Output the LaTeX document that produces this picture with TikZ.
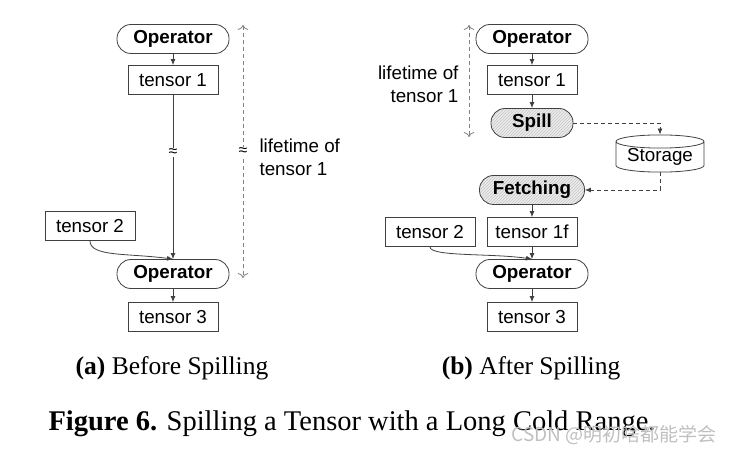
\documentclass[tikz,border=0pt]{standalone}
\usepackage{fontspec}
\newfontfamily\diagfont{Liberation Sans}
\newfontfamily\capfont{Liberation Serif}
\newfontfamily\cjkfont{Noto Sans CJK SC}
\usetikzlibrary{arrows.meta,patterns,shapes.geometric}

\begin{document}
\begin{tikzpicture}[x=1pt,y=-1pt,>={Latex[length=6pt,width=5pt]},
  font=\diagfont\fontsize{18.8}{23}\selectfont,
  box/.style={draw=black!75,line width=0.8pt,minimum height=29pt,inner sep=0pt},
  tensorbox/.style={box,minimum width=90pt},
  opbox/.style={box,rounded corners=14pt,minimum width=112pt,
    font=\diagfont\bfseries\fontsize{18.8}{23}\selectfont},
  hatched/.style={opbox,preaction={fill=gray!15},pattern=north east lines,
    pattern color=gray!45},
  flow/.style={->,draw=black!75,line width=0.8pt},
  store/.style={->,draw=black!75,line width=0.8pt,dash pattern=on 4pt off 3pt},
  life/.style={{To[length=5pt]}-{To[length=5pt]},draw=gray,line width=0.8pt,
    dash pattern=on 4pt off 3pt},
  approx/.style={fill=white,inner sep=0.5pt,font=\diagfont\fontsize{16}{16}\selectfont},
  caption/.style={anchor=base,font=\capfont\fontsize{25.5}{27}\selectfont}]
  \useasboundingbox (0,0) rectangle (736,454);
  % before spilling
  \node[opbox] (opA) at (173,39) {Operator};
  \node[tensorbox] (tAone) at (173,80) {tensor 1};
  \node[tensorbox] (tAtwo) at (90,226) {tensor 2};
  \node[opbox] (opAb) at (173,274) {Operator};
  \node[tensorbox] (tAthree) at (173,317) {tensor 3};
  \draw[flow] (opA) -- (tAone);
  \draw[flow] (tAone) -- node[approx,pos=0.35] (gapA) {≈} (opAb);
  \draw[flow] (tAtwo.south) .. controls +(0,16) and +(-45,-6) .. (opAb.north);
  \draw[flow] (opAb) -- (tAthree);
  % lifetime, left
  \coordinate (lAtop) at (243,25);
  \coordinate (lAbot) at (243,278);
  \draw[life] (lAtop) -- node[approx] (gapL) {≈} (lAbot);
  \node[anchor=west,align=left] (lifeA) at (256,157) {lifetime of\\tensor 1};
  % after spilling
  \node[opbox] (opB) at (532,39) {Operator};
  \node[tensorbox] (tBone) at (532,80) {tensor 1};
  \node[hatched,minimum width=82pt] (spill) at (532,123) {Spill};
  \node[cylinder,shape border rotate=90,draw=black!75,line width=0.8pt,aspect=0.2,
    minimum width=88pt,minimum height=33pt,inner sep=0pt] (storage) at (660,157) {Storage};
  \node[hatched,minimum width=105pt] (fetch) at (532,190) {Fetching};
  \node[tensorbox] (tBtwo) at (430,232) {tensor 2};
  \node[tensorbox] (tBonef) at (532,232) {tensor 1f};
  \node[opbox] (opBb) at (532,274) {Operator};
  \node[tensorbox] (tBthree) at (532,317) {tensor 3};
  \draw[flow] (opB) -- (tBone);
  \draw[flow] (tBone) -- (spill);
  \draw[store] (spill.east) -| (storage.north);
  \draw[store] (storage.south) |- (fetch.east);
  \draw[flow] (fetch) -- (tBonef);
  \draw[flow] (tBonef) -- (opBb);
  \draw[flow] (tBtwo.south) .. controls +(0,10) and +(-40,-6) .. (opBb.north);
  \draw[flow] (opBb) -- (tBthree);
  % lifetime, right
  \coordinate (lBtop) at (469,25);
  \coordinate (lBbot) at (469,137);
  \draw[life] (lBtop) -- (lBbot);
  \node[anchor=east,align=right] (lifeB) at (462,84) {lifetime of\\tensor 1};
  % captions
  \node[caption] (capA) at (172,374) {\textbf{(a)} Before Spilling};
  \node[caption] (capB) at (531,374) {\textbf{(b)} After Spilling};
  \node[caption,font=\capfont\fontsize{28.5}{30}\selectfont] (capFig) at (352,430)
    {\textbf{Figure 6.} Spilling a Tensor with a Long Cold Range.};
  \node[font=\cjkfont\fontsize{19}{19}\selectfont,text=gray!50] (mark) at (614,435)
    {CSDN @明初啥都能学会};
\end{tikzpicture}
\end{document}
